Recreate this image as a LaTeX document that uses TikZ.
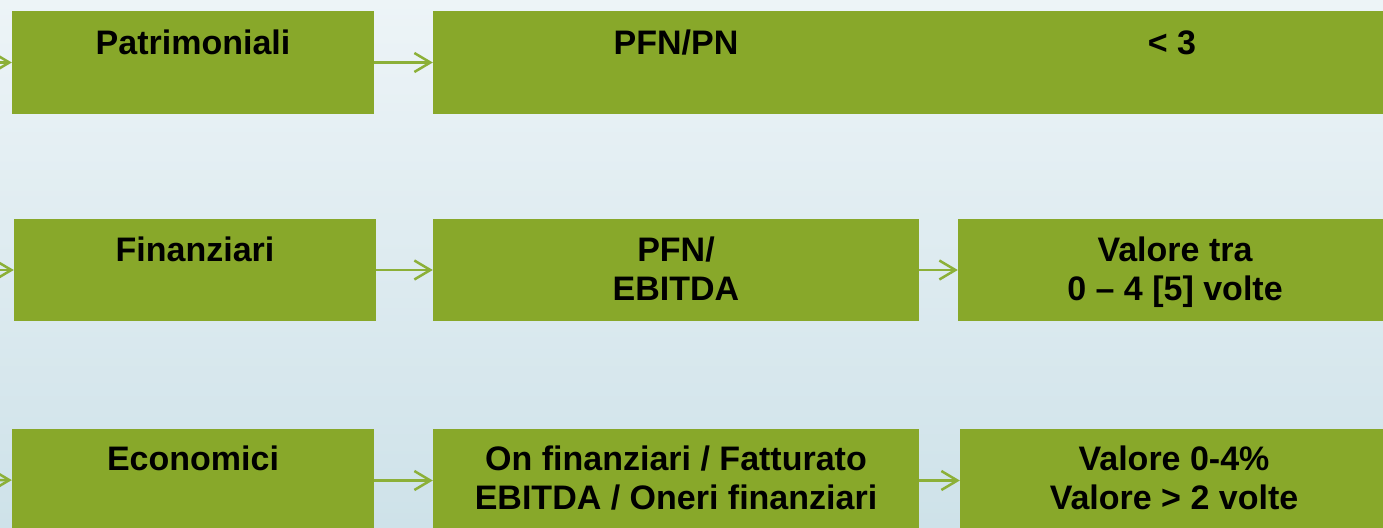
\documentclass[tikz,border=0pt]{standalone}
\usepackage{fontspec}
\setmainfont{Liberation Sans}
\usetikzlibrary{positioning,arrows.meta}

\definecolor{boxgreen}{RGB}{136,168,42}
\definecolor{linkgreen}{RGB}{140,176,56}
\definecolor{bgtop}{RGB}{237,244,247}
\definecolor{bgbottom}{RGB}{206,226,233}

\begin{document}
\begin{tikzpicture}
        [x=1pt,y=-1pt,
         box/.style={rectangle,fill=boxgreen,inner sep=0pt,minimum height=103pt},
         lbl/.style={anchor=north,inner sep=0pt,align=center,
                     font=\fontsize{34}{39}\selectfont\bfseries},
         link/.style={draw=linkgreen,line width=2.5pt,-{Straight Barb[length=16pt,width=19pt]}}]
        \useasboundingbox (0,0) rectangle (1383,527);
        \shade[top color=bgtop,bottom color=bgbottom] (0,0) rectangle (1383,527);
        \clip (0,0) rectangle (1383,527);

        \coordinate (in1) at (-30, 62.5);
        \coordinate (in2) at (-30, 270);
        \coordinate (in3) at (-30, 480);

        \node[box, minimum width=362pt] (pat) at (193, 62.5) {};
        \node[box, minimum width=950pt] (pn) at (908, 62.5) {};

        \node[box, minimum width=362pt, minimum height=102pt] (fin) at (195, 270) {};
        \node[box, minimum width=486pt, minimum height=102pt] (ebd) at (676, 270) {};
        \node[box, minimum width=425pt, minimum height=102pt] (val2) at (1170.5, 270) {};

        \node[box, minimum width=362pt] (eco) at (193, 480.5) {};
        \node[box, minimum width=486pt] (onf) at (676, 480.5) {};
        \node[box, minimum width=423pt] (val3) at (1171.5, 480.5) {};

        \node[lbl] (patname) at (193, 30) {Patrimoniali};
        \node[lbl] (pnname) at (676, 30) {PFN/PN};
        \node[lbl] (pnval) at (1172, 31) {< 3};

        \node[lbl] (finname) at (195, 237) {Finanziari};
        \node[lbl] (ebdname) at (676, 237) {PFN/\\EBITDA};
        \node[lbl] (val2name) at (1175, 237) {Valore tra\\0 -- 4 [5] volte};

        \node[lbl] (econame) at (193, 446) {Economici};
        \node[lbl] (onfname) at (676, 446) {On finanziari / Fatturato\\EBITDA / Oneri finanziari};
        \node[lbl] (val3name) at (1174, 446) {Valore 0-4\%\\Valore > 2 volte};

        \foreach \from/\to in {in1/pat, pat/pn, in2/fin, fin/ebd, ebd/val2,
        in3/eco, eco/onf, onf/val3}
            \draw[link] (\from) -- (\to);

      \end{tikzpicture}
\end{document}
